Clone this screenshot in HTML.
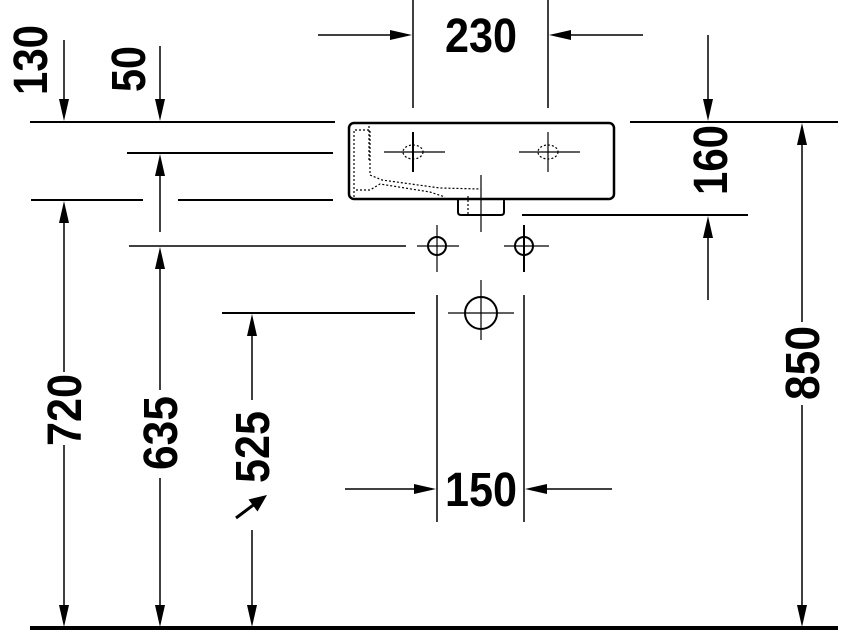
<!DOCTYPE html>
<html><head><style>html,body{margin:0;padding:0;background:#fff}svg{display:block}</style></head><body>
<svg width="842" height="633" viewBox="0 0 842 633" xmlns="http://www.w3.org/2000/svg">
<g stroke="#000" fill="none">
<g stroke-width="2">
<line x1="30" y1="122" x2="335" y2="122"/><line x1="630" y1="122" x2="838" y2="122"/>
<line x1="127" y1="153" x2="333" y2="153"/>
<line x1="31" y1="200" x2="143" y2="200"/><line x1="178" y1="200" x2="333" y2="200"/>
<line x1="222" y1="313" x2="415" y2="313"/>
<line x1="522" y1="215" x2="748" y2="215"/>
</g>
<line x1="129" y1="246" x2="406" y2="246" stroke-width="1.5"/>
<line x1="30" y1="628" x2="838" y2="628" stroke-width="4"/>
<g stroke-width="1.5">
<line x1="64" y1="40" x2="64" y2="110"/>
<line x1="64" y1="372" x2="64" y2="210"/>
<line x1="64" y1="445" x2="64" y2="615"/>
<line x1="160" y1="46" x2="160" y2="110"/>
<line x1="160" y1="232" x2="160" y2="165"/>
<line x1="160" y1="390" x2="160" y2="258"/>
<line x1="160" y1="478" x2="160" y2="615"/>
<line x1="252" y1="400" x2="252" y2="325"/>
<line x1="252" y1="530" x2="252" y2="615"/>
<line x1="802" y1="322" x2="802" y2="135"/>
<line x1="802" y1="405" x2="802" y2="615"/>
<line x1="708" y1="35" x2="708" y2="110"/>
<line x1="708" y1="300" x2="708" y2="228"/>
<line x1="413" y1="0" x2="413" y2="108"/><line x1="548" y1="0" x2="548" y2="108"/>
<line x1="318" y1="35" x2="400" y2="35"/>
<line x1="643" y1="35" x2="560" y2="35"/>
<line x1="437" y1="295" x2="437" y2="522"/><line x1="524" y1="295" x2="524" y2="522"/>
<line x1="345" y1="489" x2="425" y2="489"/>
<line x1="612" y1="489" x2="536" y2="489"/>
</g>
<line x1="236" y1="518" x2="256" y2="503" stroke-width="3"/>
<rect x="349" y="123" width="265" height="76" rx="5" stroke-width="2.5"/>
<path d="M458,199 V212 Q458,215 461,215 H501 Q504,215 504,212 V199" stroke-width="2"/>
<g stroke-width="1.2" stroke-dasharray="2,2">
<path d="M354,197 V130 H370 V175 L382,180 L440,188 L481,189"/>
<path d="M356,190 H370 L380,184 L430,192 L445,197"/>
<path d="M369,126 V160"/>
<path d="M468,196 V215"/>
<ellipse cx="413" cy="152" rx="10" ry="7"/><ellipse cx="548" cy="152" rx="10" ry="7"/>
</g>
<g stroke-width="1.2">
<line x1="384" y1="152" x2="445" y2="152"/><line x1="413" y1="132" x2="413" y2="172" stroke-width="2"/>
<line x1="519" y1="152" x2="580" y2="152"/><line x1="548" y1="132" x2="548" y2="172"/>
<line x1="481" y1="175" x2="481" y2="232"/>
<circle cx="437" cy="246" r="9" stroke-width="2"/><line x1="417" y1="246" x2="459" y2="246"/><line x1="437" y1="225" x2="437" y2="272"/>
<circle cx="524" cy="246" r="9" stroke-width="2"/><line x1="504" y1="246" x2="549" y2="246"/><line x1="524" y1="225" x2="524" y2="272" stroke-width="2"/>
<circle cx="481" cy="313" r="16" stroke-width="2"/><line x1="448" y1="313" x2="514" y2="313"/><line x1="481" y1="280" x2="481" y2="340"/>
</g>
</g>
<g fill="#000">
<!-- down arrows -->
<polygon points="59,99 69,99 64,121"/>
<polygon points="59,605 69,605 64,627"/>
<polygon points="155,99 165,99 160,121"/>
<polygon points="155,605 165,605 160,627"/>
<polygon points="247,605 257,605 252,627"/>
<polygon points="797,605 807,605 802,627"/>
<polygon points="703,99 713,99 708,121"/>
<!-- up arrows -->
<polygon points="59,223 69,223 64,201"/>
<polygon points="155,176 165,176 160,154"/>
<polygon points="155,269 165,269 160,247"/>
<polygon points="247,336 257,336 252,314"/>
<polygon points="797,145 807,145 802,123"/>
<polygon points="703,238 713,238 708,216"/>
<!-- right -->
<polygon points="390,30 390,40 412,35"/>
<polygon points="414,484 414,494 436,489"/>
<!-- left -->
<polygon points="571,30 571,40 549,35"/>
<polygon points="547,484 547,494 525,489"/>
<!-- diagonal -->
<polygon points="257.5,511.5 248.5,499.5 267,495"/>
</g>
<g font-family="'Liberation Sans Narrow','Liberation Sans',sans-serif" font-weight="bold" font-size="48" fill="#000" text-anchor="middle">
<text x="481" y="52" textLength="72" lengthAdjust="spacingAndGlyphs">230</text>
<text x="481" y="506" textLength="72" lengthAdjust="spacingAndGlyphs">150</text>
<text transform="translate(30,60) rotate(-90)" y="17" textLength="70" lengthAdjust="spacingAndGlyphs">130</text>
<text transform="translate(128,69) rotate(-90)" y="17" textLength="46" lengthAdjust="spacingAndGlyphs">50</text>
<text transform="translate(64,410) rotate(-90)" y="17" textLength="72" lengthAdjust="spacingAndGlyphs">720</text>
<text transform="translate(160,433) rotate(-90)" y="17" textLength="74" lengthAdjust="spacingAndGlyphs">635</text>
<text transform="translate(252,447) rotate(-90)" y="17" textLength="72" lengthAdjust="spacingAndGlyphs">525</text>
<text transform="translate(802,363) rotate(-90)" y="17" textLength="74" lengthAdjust="spacingAndGlyphs">850</text>
<text transform="translate(710,160) rotate(-90)" y="17" textLength="70" lengthAdjust="spacingAndGlyphs">160</text>
</g>
</svg>
</body></html>
